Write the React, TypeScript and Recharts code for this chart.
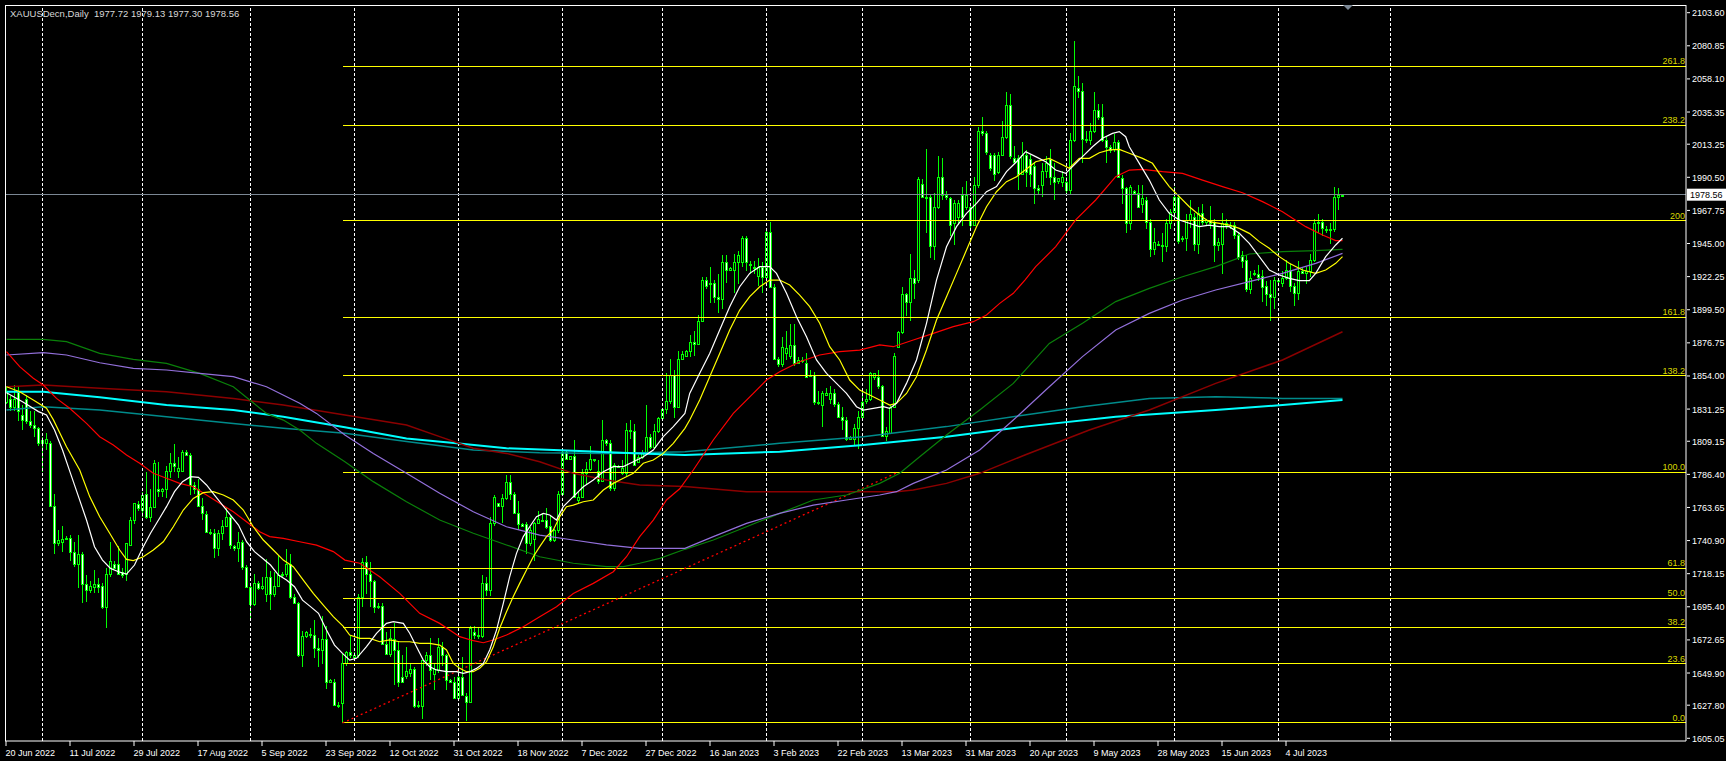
import React from 'react';
import { ComposedChart, Bar, Line, XAxis, YAxis, ReferenceLine } from 'recharts';

// [open, high, low, close] per daily bar
const CANDLES: number[][] = [
  [1836,1847,1835,1843],[1838,1840,1830,1833],[1833,1848,1830,1838],[1843,1847,1823,1830],[1827,1834,1817,1824],
  [1838,1841,1821,1823],[1823,1830,1818,1820],[1820,1830,1812,1818],[1818,1819,1806,1808],[1810,1812,1788,1808],
  [1808,1815,1803,1811],[1808,1809,1764,1765],[1765,1773,1732,1739],[1739,1748,1737,1741],[1740,1751,1733,1742],
  [1742,1744,1741,1743],[1743,1745,1727,1733],[1733,1740,1723,1725],[1725,1745,1708,1732],[1732,1733,1698,1711],
  [1711,1717,1699,1707],[1707,1713,1705,1710],[1709,1721,1705,1711],[1711,1715,1705,1709],[1710,1712,1694,1695],
  [1695,1722,1681,1718],[1718,1740,1716,1727],[1725,1727,1722,1722],[1725,1737,1717,1718],[1719,1722,1715,1717],
  [1718,1739,1713,1739],[1738,1757,1737,1755],[1755,1767,1752,1767],[1766,1768,1761,1763],[1762,1774,1757,1772],
  [1773,1788,1756,1757],[1757,1776,1754,1764],[1764,1796,1763,1794],[1776,1795,1771,1775],[1775,1777,1771,1776],
  [1776,1792,1770,1789],[1789,1801,1784,1794],[1794,1807,1788,1792],[1789,1798,1784,1791],[1789,1803,1788,1802],
  [1802,1803,1799,1800],[1800,1801,1772,1779],[1779,1781,1773,1776],[1776,1783,1765,1765],[1765,1770,1755,1760],
  [1759,1761,1747,1747],[1747,1749,1745,1746],[1746,1749,1729,1736],[1736,1748,1730,1746],[1746,1755,1741,1751],
  [1751,1764,1750,1757],[1757,1758,1735,1738],[1737,1738,1734,1736],[1736,1747,1726,1740],[1740,1741,1721,1723],
  [1723,1724,1708,1709],[1709,1712,1688,1697],[1697,1718,1696,1712],[1712,1713,1707,1708],[1708,1716,1707,1710],
  [1704,1728,1699,1716],[1716,1720,1693,1704],[1704,1719,1702,1710],[1710,1731,1709,1717],[1717,1719,1716,1718],
  [1718,1735,1716,1725],[1725,1732,1701,1702],[1702,1704,1697,1698],[1698,1699,1661,1662],[1662,1679,1654,1675],
  [1675,1679,1674,1678],[1677,1681,1674,1676],[1676,1686,1660,1667],[1667,1674,1654,1666],[1666,1689,1656,1673],
  [1673,1682,1639,1644],[1644,1646,1643,1645],[1644,1646,1627,1628],[1628,1630,1626,1628],[1629,1663,1615.6,1657],
  [1657,1665,1655,1664],[1664,1675,1660,1662],[1661,1664,1659,1662],[1662,1704,1660,1702],[1702,1729,1695,1726],
  [1726,1730,1704,1718],[1718,1726,1695,1713],[1713,1714,1691,1695],[1695,1698,1694,1696],[1696,1698,1669,1670],
  [1670,1678,1662,1663],[1663,1680,1661,1674],[1673,1684,1642,1666],[1666,1671,1640,1644],[1647,1662,1643,1644],
  [1648,1668,1646,1651],[1650,1656,1647,1653],[1653,1654,1626,1627],[1627,1631,1626,1628],[1627,1659,1618,1659],
  [1659,1664,1655,1662],[1662,1674,1645,1652],[1649,1656,1638,1653],[1652,1674,1650,1668],[1668,1671,1655,1662],
  [1662,1663,1638,1645],[1645,1646,1643,1644],[1644,1647,1632,1633],[1633,1655,1631,1647],[1647,1661,1634,1635],
  [1634,1636,1617,1630],[1630,1682,1629,1681],[1678,1682,1673,1676],[1676,1681,1673,1675],[1675,1717,1674,1712],
  [1712,1716,1703,1707],[1707,1757,1703,1753],[1753,1772,1751,1771],[1767,1767,1764,1765],[1765,1773,1753,1770],
  [1770,1786,1769,1781],[1781,1786,1769,1773],[1773,1774,1759,1760],[1760,1768,1748,1752],[1752,1753,1750,1751],
  [1752,1754,1732,1739],[1739,1750,1737,1748],[1742,1754,1727,1753],[1753,1761,1752,1756],[1755,1760,1754,1755],
  [1755,1763,1749,1750],[1751,1758,1740,1741],[1741,1749,1740,1748],[1748,1775,1746,1773],[1773,1804,1772,1802],
  [1802,1803,1796,1797],[1797,1799,1796,1799],[1799,1810,1770,1771],[1769,1775,1767,1771],[1771,1790,1770,1787],
  [1787,1795,1780,1790],[1790,1806,1789,1797],[1796,1797,1795,1797],[1789,1796,1780,1782],[1782,1824,1781,1810],
  [1810,1811,1806,1808],[1808,1810,1775,1777],[1777,1794,1775,1793],[1792,1793,1791,1792],[1787,1796,1786,1791],
  [1787,1822,1785,1817],[1817,1824,1811,1816],[1816,1821,1792,1793],[1795,1800,1794,1798],[1798,1803,1797,1802],
  [1802,1834,1801,1812],[1812,1814,1804,1805],[1805,1821,1804,1816],[1816,1826,1815,1825],[1825,1832,1824,1831],
  [1831,1856,1828,1837],[1837,1866,1835,1855],[1855,1858,1825,1833],[1833,1871,1832,1866],[1866,1871,1865,1869],
  [1868,1872,1867,1871],[1871,1882,1867,1877],[1877,1885,1868,1876],[1876,1896,1875,1892],[1892,1922,1891,1920],
  [1920,1922,1914,1916],[1917,1929,1904,1918],[1918,1920,1904,1908],[1908,1924,1897,1907],[1907,1937,1900,1932],
  [1932,1937,1918,1927],[1927,1929,1926,1928],[1927,1938,1911,1932],[1932,1940,1917,1937],[1932,1950,1929,1949],
  [1949,1950,1926,1932],[1931,1933,1924,1930],[1928,1933,1924,1929],[1923,1935,1916,1929],[1929,1932,1911,1922],
  [1922,1955,1919,1953],[1953,1960,1915,1915],[1915,1917,1865,1866],[1866,1867,1860,1862],[1862,1881,1860,1874],
  [1870,1885,1865,1873],[1868,1890,1866,1875],[1875,1890,1861,1863],[1863,1867,1862,1865],[1864,1867,1863,1865],
  [1863,1870,1853,1853],[1854,1858,1853,1855],[1855,1857,1834,1836],[1836,1844,1834,1836],[1834,1844,1819,1842],
  [1841,1846,1840,1842],[1838,1847,1835,1842],[1842,1845,1833,1835],[1835,1836,1825,1826],[1826,1833,1817,1824],
  [1824,1826,1809,1811],[1811,1813,1811,1812],[1811,1821,1806,1818],[1818,1830,1804,1826],[1826,1845,1823,1836],
  [1837,1845,1835,1838],[1838,1857,1837,1856],[1853,1856,1851,1856],[1853,1858,1845,1847],[1847,1848,1813,1813],
  [1813,1819,1809,1816],[1815,1834,1814,1833],[1833,1870,1832,1868],[1874,1885,1873,1884],[1884,1915,1883,1910],
  [1910,1911,1895,1905],[1905,1938,1892,1921],[1921,1927,1907,1918],[1920,1991,1918,1989],[1986,1989,1976,1977],
  [1977,2010,1952,1976],[1977,1978,1935,1943],[1943,1980,1934,1970],[1970,2005,1969,1991],[1991,2004,1975,1978],
  [1978,1981,1975,1977],[1976,1977,1950,1958],[1959,1975,1944,1973],[1963,1975,1958,1973],[1978,1984,1957,1963],
  [1970,1988,1968,1978],[1970,1972,1955,1958],[1958,1991,1957,1985],[1985,2025,1983,2022],[2022,2032,2019,2021],
  [2021,2022,2006,2008],[2006,2007,1995,1997],[2006,2007,1988,1993],[1994,2008,1993,2006],[2006,2029,2005,2018],
  [2018,2049,2017,2040],[2040,2048,2003,2005],[2004,2012,2000,2001],[2004,2006,1982,1993],[1993,2015,1992,2006],
  [2006,2009,1984,1994],[2003,2006,1984,1993],[1998,2001,1972,1983],[1983,1985,1979,1982],[1985,2000,1977,1995],
  [1995,2005,1990,2000],[2003,2010,1985,1991],[1991,2000,1975,1987],[1988,1990,1986,1990],[1987,1995,1984,1991],
  [1987,1991,1978,1982],[1982,2021,1979,2016],[2016,2084,2015,2053],[2052,2060,2045,2050],[2050,2055,2000,2017],
  [2017,2022,2014,2016],[2016,2028,2013,2022],[2022,2049,2021,2037],[2037,2041,2030,2032],[2032,2041,2015,2016],
  [2016,2018,2000,2011],[2011,2013,2007,2009],[2010,2020,2008,2015],[2015,2016,1990,1991],[1990,1992,1972,1983],
  [1983,1984,1952,1959],[1959,1985,1954,1984],[1981,1982,1979,1980],[1980,1985,1970,1970],[1972,1985,1966,1976],
  [1975,1977,1955,1960],[1960,1962,1936,1941],[1941,1956,1937,1946],[1945,1947,1943,1944],[1944,1952,1932,1943],
  [1943,1962,1939,1959],[1959,1969,1955,1967],[1967,1984,1965,1977],[1977,1978,1945,1947],[1948,1950,1946,1949],
  [1949,1965,1940,1961],[1961,1975,1956,1965],[1963,1966,1940,1945],[1945,1970,1938,1966],[1966,1972,1958,1960],
  [1960,1962,1958,1961],[1961,1971,1955,1959],[1960,1962,1932,1944],[1944,1949,1940,1946],[1945,1966,1924,1959],
  [1959,1962,1955,1958],[1958,1960,1955,1957],[1958,1960,1948,1951],[1951,1953,1934,1936],[1937,1940,1928,1933],
  [1934,1937,1912,1914],[1914,1926,1910,1921],[1925,1927,1923,1924],[1924,1930,1919,1922],[1923,1927,1905,1915],
  [1916,1919,1902,1910],[1910,1920,1892,1908],[1908,1922,1900,1920],[1919,1921,1918,1920],[1918,1926,1915,1921],
  [1921,1934,1920,1927],[1927,1931,1912,1916],[1916,1918,1902,1911],[1911,1933,1906,1926],[1926,1928,1924,1925],
  [1925,1929,1917,1926],[1926,1938,1922,1934],[1934,1962,1932,1959],[1959,1965,1952,1960],[1960,1962,1950,1956],
  [1955,1957,1952,1954],[1954,1959,1945,1955],[1955,1984,1953,1977],[1977,1983,1968,1978],[1977.72,1979.13,1977.3,1978.56],
];

const DATE_BARS = [0,16,32,48,64,80,96,112,128,144,160,176,192,208,224,240,256,272,288,304,320];
const DATE_LABELS = [
  '20 Jun 2022','11 Jul 2022','29 Jul 2022','17 Aug 2022','5 Sep 2022','23 Sep 2022','12 Oct 2022',
  '31 Oct 2022','18 Nov 2022','7 Dec 2022','27 Dec 2022','16 Jan 2023','3 Feb 2023','22 Feb 2023',
  '13 Mar 2023','31 Mar 2023','20 Apr 2023','9 May 2023','28 May 2023','15 Jun 2023','4 Jul 2023',
];
const PRICE_TICKS = [
  2103.60,2080.85,2058.10,2035.35,2013.25,1990.50,1967.75,1945.00,1922.25,1899.50,1876.75,1854.00,
  1831.25,1809.15,1786.40,1763.65,1740.90,1718.15,1695.40,1672.65,1649.90,1627.80,1605.05,
];
const GRID_BARS = [9,34,61,87,113,139,164,190,214,241,265,292,318,346];

const FIB_LEVELS: [string, number][] = [
  ['0.0',1615.6],['23.6',1656.1],['38.2',1681.4],['50.0',1701.4],['61.8',1721.9],['100.0',1788.0],
  ['138.2',1854.0],['161.8',1894.4],['200',1960.5],['238.2',2026.3],['261.8',2066.9],
];
const FIB_START = { bar: 84, price: 1615.6 };
const FIB_END = { bar: 223, price: 1788.0 };
const LAST_PRICE = 1978.56;
const TITLE = 'XAUUSDecn,Daily  1977.72 1979.13 1977.30 1978.56';

// moving averages, [bar, price] samples
const WHITE_MA = [
  [0,1842.5],[4,1836.3],[8,1829.5],[10,1827.2],[12,1816.9],[14,1803.1],[16,1787.1],[18,1771.1],[20,1755],[22,1736.7],
  [24,1727.5],[26,1721.8],[28,1719.5],[30,1717.9],[32,1724.1],[34,1735.6],[36,1745.9],[38,1755],[40,1764.2],[42,1774.5],
  [44,1781.4],[46,1784.8],[48,1784.3],[50,1779.1],[52,1772.2],[54,1765.3],[56,1758.4],[58,1751.6],[60,1740.1],[62,1733.3],
  [64,1728.7],[66,1724.1],[68,1717.2],[70,1713.8],[72,1709.2],[74,1700],[76,1695.5],[78,1690.9],[80,1679.4],[82,1669.1],
  [84,1663.4],[85.8,1658.8],[87.5,1660],[90,1668],[92.5,1677.2],[95,1684],[96.7,1685.2],[99.2,1684],[100.8,1677.2],
  [102.5,1668],[104.2,1658.8],[105.8,1654.2],[107.5,1652],[110,1650.8],[112.5,1650.8],[114.2,1649.7],[115.8,1650.8],
  [117.5,1653.1],[119.2,1656.5],[120.8,1665.7],[122.5,1679.4],[124.2,1697.8],[125.8,1716.1],[127.5,1732.1],[129.2,1743.6],
  [130.8,1750.4],[132.5,1757.3],[134.2,1759.6],[135.8,1758.5],[137.5,1755],[139.2,1764.2],[141.7,1771.1],[144.2,1777.9],
  [146.7,1782.5],[149.2,1788.2],[151.7,1791.7],[154.2,1791.7],[156.7,1795.1],[159.2,1798.5],[161.7,1803.1],[164.2,1812.3],
  [166.7,1819.2],[169.6,1828.3],[170.8,1842],[173.3,1855.8],[175.8,1869.5],[178.3,1885.6],[180.8,1901.6],[183.3,1915.3],
  [185.8,1924.5],[188.3,1929.1],[190.8,1929.1],[192.5,1924.5],[195,1910.8],[197.5,1894.7],[200,1881],[202.5,1865],
  [205,1855.8],[207.5,1848.9],[210,1842],[212.5,1832.9],[214.2,1830.6],[216.7,1831.7],[219.2,1832.9],[220.8,1831.7],
  [222.5,1835.2],[225,1848.9],[227.5,1865],[230,1890.2],[232.5,1919.9],[235,1942.8],[237.5,1956.6],[240,1965.7],
  [242.5,1972.6],[245,1980.6],[247.5,1984.1],[250,1994.4],[252.5,2001.2],[254.8,2008.1],[257.3,2004.7],[259.8,2001.2],
  [262.3,1995.5],[264.8,1993.2],[266.5,1997.8],[269,2004.7],[271.5,2011.5],[274,2017.3],[276.5,2020.7],[278.2,2021.9],
  [279.8,2018.4],[280.7,2011.5],[283.2,2000.1],[285.7,1988.6],[288.2,1974.9],[290.7,1965.7],[293.2,1961.2],[295.7,1958.9],
  [298.2,1956.6],[300.7,1957.7],[303.2,1956.6],[305.7,1956.6],[308.2,1952],[310.7,1945.1],[313.2,1936],[315.7,1926.8],
  [318.2,1923.4],[320.7,1921.1],[323.2,1919.5],[325.7,1919.5],[327.3,1924.5],[329.8,1936],[332.3,1944],[334,1948.6],
];
const YELLOW_MA = [
  [0,1846.6],[3.3,1843.2],[6.7,1837.5],[10,1831.8],[11.7,1824],[15,1805.4],[18.3,1789.4],[20.8,1771.1],[23.3,1757.3],
  [25.8,1745.9],[28.3,1734.4],[30,1728],[31.7,1727.1],[34.2,1729.8],[36.7,1734.4],[39.2,1740.1],[41.7,1750.4],[44.2,1761.9],
  [46.7,1769.9],[49.2,1773.8],[51.7,1774.5],[54.2,1772.2],[56.7,1768.8],[59.2,1761.9],[61.7,1750.4],[64.2,1741.3],
  [66.7,1734.4],[69.2,1727.5],[71.7,1723],[74.2,1713.8],[76.7,1704.6],[79.2,1696.6],[81.7,1688.6],[84.2,1682],
  [85.8,1676],[88.3,1673.7],[90.8,1673.7],[93.3,1671.4],[95.8,1672.6],[98.3,1671.4],[100.8,1671.4],[103.3,1670.3],
  [105.8,1670.3],[108.3,1669.1],[110,1665.7],[111.7,1656.5],[113.3,1653.1],[115,1650.8],[116.7,1650.8],[118.3,1653.1],
  [120,1657.7],[121.7,1668],[123.3,1680.6],[125,1692],[126.7,1702.4],[128.3,1711.5],[130,1720.7],[131.7,1729.8],
  [133.3,1736.7],[135,1743.6],[136.7,1748.2],[138.3,1757.3],[140,1764.2],[141.7,1765.3],[144.2,1767.6],[146.7,1768.8],
  [149.2,1775.6],[151.7,1780.2],[154.2,1783.7],[156.7,1787.1],[159.2,1794],[161.7,1796.3],[164.2,1800.8],[166.7,1807.7],
  [169.6,1818],[170.8,1823.7],[173.3,1837.5],[175.8,1853.5],[178.3,1869.5],[180.8,1885.6],[183.3,1899.3],[185.8,1908.5],
  [188.3,1915.3],[190.8,1919.9],[193.3,1919.9],[195.8,1916.5],[198.3,1909.6],[200.8,1901.6],[203.3,1890.2],[205.8,1874.1],
  [208.3,1865],[210.8,1851.2],[213.3,1844.3],[215.8,1840.9],[218.3,1837.5],[220.8,1834],[222.5,1835.2],[225,1842],
  [227.5,1853.5],[230,1871.8],[232.5,1892.4],[235,1908.5],[237.5,1924.5],[240,1940.5],[242.5,1956.6],[245,1970.3],
  [247.5,1980.6],[250,1987.5],[252.5,1990.9],[257.3,2001.2],[260.7,2003.5],[263.2,2000.1],[265.7,1996.7],[268.2,2003.5],
  [270.7,2003.5],[273.2,2007.4],[275.7,2009.3],[278.2,2009.7],[280.7,2007],[284,2003.5],[286.5,2000.1],[288.2,1993.2],
  [290.7,1984.1],[293.2,1977.2],[295.7,1970.3],[298.2,1964.6],[300.7,1960],[303.2,1958.9],[305.7,1957.7],[308.2,1955.4],
  [310.7,1952],[313.2,1946.3],[315.7,1941.7],[318.2,1936],[320.7,1931.4],[324,1926.8],[327.3,1924.5],[329.8,1926.8],
  [332.3,1931.4],[334,1936],
];
const RED_MA = [
  [0,1870.7],[3.3,1860.4],[6.7,1852.4],[9.2,1847.8],[12.5,1838.6],[15.8,1831.8],[20,1821.4],[23.3,1812.3],[26.7,1806.6],
  [30,1799.7],[33.3,1794],[36.7,1787.1],[40,1783.7],[43.3,1780.2],[46.7,1777.9],[50,1772.2],[53.3,1766.5],[56.7,1760.7],
  [60,1753.9],[63.3,1747],[65.8,1743.6],[69.2,1742.4],[73.3,1740.1],[77.5,1737.8],[81.7,1733.3],[84.6,1727.5],
  [88.3,1725.3],[93.3,1716.1],[98.3,1704.6],[103.3,1690.9],[108.3,1684],[113.3,1674.9],[116.7,1672.1],[119.2,1670.7],
  [121.7,1672.6],[125,1676],[129.2,1681.7],[133.3,1688.6],[137.5,1695.5],[141.7,1704.6],[146.7,1711.5],[151.7,1719.5],
  [155,1729.8],[158.3,1743.6],[161.7,1755],[165,1768.8],[168.3,1776.5],[171.7,1789.4],[176.7,1810],[181.7,1828.3],
  [186.7,1842],[190,1851.2],[193.3,1856.9],[198.3,1863.8],[203.3,1868.4],[208.3,1870.7],[213.3,1871.8],[218.3,1875.3],
  [221.7,1874.1],[226.7,1878.7],[231.7,1883.3],[236.7,1887.9],[241.7,1891.3],[245,1895.9],[248.3,1903.9],[251.7,1910.8],
  [254.6,1919.9],[257.3,1929.1],[262.3,1942.8],[267.3,1961.2],[272.3,1974.9],[277.3,1990.9],[280.7,1995.5],[284,1996],
  [289,1994.4],[294,1993.2],[299,1988.6],[304,1984.1],[309,1979.9],[314,1973.8],[319,1966.9],[321.5,1962.3],
  [324.8,1956.6],[329,1950.9],[332.3,1947],[334,1947],
];
const GREEN_MA = [
  [0,1879.2],[9.2,1879.2],[15,1877.6],[23.3,1869.5],[31.7,1865.4],[40,1862.7],[48.3,1855.8],[56.7,1846.6],[60.8,1837.5],
  [65,1828.3],[69.2,1823.7],[73.3,1816.9],[77.5,1807.7],[84.6,1795.1],[91.7,1781.4],[100,1767.6],[108.3,1755],
  [116.7,1745.9],[125,1737.9],[133.3,1729.8],[141.7,1725.3],[150,1723],[154.2,1723],[158.3,1725.3],[163.3,1728.7],
  [169.6,1734.9],[176.7,1741.3],[185,1750.4],[193.3,1759.6],[201.7,1768.8],[210,1772.2],[218.3,1780.2],[223.3,1787.1],
  [228.3,1798.5],[235,1813.4],[243.3,1830.6],[251.7,1848.9],[260.7,1876.4],[269,1890.2],[277.3,1905.1],[285.7,1914.2],
  [294,1922.2],[302.3,1929.1],[310.7,1937.8],[319,1939.4],[327.3,1940.1],[334,1941],
];
const PURPLE_MA = [
  [0,1868.4],[9.2,1870],[15,1868.4],[23.3,1863.1],[31.7,1859.2],[40,1858.1],[48.3,1855.8],[56.7,1853.5],[65,1846.6],
  [73.3,1835.2],[77.5,1828.3],[84.6,1813.4],[91.7,1800.8],[100,1787.1],[108.3,1773.4],[116.7,1760.7],[125,1750.4],
  [133.3,1744.7],[141.7,1741.3],[150,1737.9],[158.3,1735.6],[169.6,1735.6],[176.7,1743.6],[185,1752.7],[193.3,1759.6],
  [201.7,1765.3],[210,1768.8],[218.3,1772.2],[222.5,1774.5],[226.7,1780.2],[235,1789.4],[243.3,1803.1],[251.7,1823.7],
  [260.7,1846.6],[269,1867.3],[277.3,1885.6],[285.7,1897],[294,1906.2],[302.3,1913.1],[310.7,1918.8],[319,1924.5],
  [327.3,1931.4],[334,1938.2],
];
const DARKRED_MA = [
  [0,1846.6],[9.2,1847.8],[23.3,1845.5],[40,1843.2],[56.7,1838.6],[69.2,1834],[84.6,1827.2],[100,1820.3],[108.3,1812.3],
  [116.7,1804.3],[125,1800.8],[133.3,1795.1],[141.7,1787.1],[150,1782.5],[158.3,1779.1],[169.6,1778],[185,1774.5],
  [201.7,1774.5],[222.5,1774.5],[226.7,1775.6],[235,1780.2],[243.3,1787.1],[254.6,1799.7],[270.7,1816.9],[285.7,1830.6],
  [302.3,1848.9],[319,1865],[334,1884.4],
];
const CYAN_MA = [
  [0,1843.2],[9.2,1843.2],[23.3,1839.3],[40,1834],[56.7,1830.6],[69.2,1826],[84.6,1818.7],[100,1811.1],[112.5,1807.7],
  [125,1804.3],[141.7,1802.7],[158.3,1800.8],[169.6,1799.7],[193.3,1802],[214.2,1806.6],[235,1812.3],[254.6,1819.2],
  [277.3,1826],[302.3,1830.6],[319,1834],[334,1837.5],
];
const TEAL_MA = [
  [0,1830.6],[9.2,1832.9],[23.3,1830.6],[40,1826],[56.7,1821.4],[69.2,1818],[84.6,1814.6],[100,1808.9],[116.7,1803.1],
  [133.3,1801.3],[150,1800.8],[169.6,1802],[193.3,1807.7],[214.2,1812.3],[235,1819.2],[254.6,1827.2],[269,1832.9],
  [285.7,1838.6],[302.3,1839.8],[319,1838.6],[334,1838.6],
];

const X_DOMAIN: [number, number] = [-0.375, 419.875];
const Y_DOMAIN: [number, number] = [1603.19, 2108.89];
const FONT = '"Liberation Sans", Arial, sans-serif';

const table = CANDLES.map((c, i) => ({ i, o: c[0], h: c[1], l: c[2], c: c[3], range: [c[2], c[1]] }));
const toLine = (arr: number[][]) => arr.map(([i, v]) => ({ i, v }));

const MAS = [
  { key: 'teal', data: toLine(TEAL_MA), color: '#008b8b', w: 1.5 },
  { key: 'cyan', data: toLine(CYAN_MA), color: '#00ffff', w: 2 },
  { key: 'darkred', data: toLine(DARKRED_MA), color: '#8b0000', w: 1.5 },
  { key: 'green', data: toLine(GREEN_MA), color: '#0a800a', w: 1.2 },
  { key: 'purple', data: toLine(PURPLE_MA), color: '#9370db', w: 1.2 },
  { key: 'red', data: toLine(RED_MA), color: '#ff0000', w: 1.2 },
  { key: 'yellow', data: toLine(YELLOW_MA), color: '#ffff00', w: 1.2 },
  { key: 'white', data: toLine(WHITE_MA), color: '#ffffff', w: 1.2 },
];

function Candle(props: any) {
  const { x, y, width, height, payload } = props;
  if (!payload || !Number.isFinite(x) || !Number.isFinite(y)) return null;
  const { o, h, l, c } = payload;
  const k = h > l ? height / (h - l) : 0;
  const py = (p: number) => y + (h - p) * k;
  const cx = Math.floor(x + width / 2) + 0.5;
  const top = Math.round(py(Math.max(o, c)));
  const bot = Math.round(py(Math.min(o, c)));
  return (
    <g shapeRendering="crispEdges">
      <line x1={cx} x2={cx} y1={py(h)} y2={py(l)} stroke="#00ff00" strokeWidth={1} />
      <rect x={cx - 1} y={top + 0.5} width={2} height={Math.max(bot - top, 1)}
        fill={c >= o ? '#000000' : '#ffffff'} stroke="#00ff00" strokeWidth={1} />
    </g>
  );
}

function PriceTick(props: any) {
  const { x, y, payload } = props;
  return (
    <g>
      <line x1={x + 1} x2={x + 4} y1={y} y2={y} stroke="#ffffff" />
      <text x={x + 6} y={y + 3.5} fill="#ffffff" fontSize={9} fontFamily={FONT}>
        {Number(payload.value).toFixed(2)}
      </text>
    </g>
  );
}

function DateTick(props: any) {
  const { x, y, payload } = props;
  const idx = DATE_BARS.indexOf(payload.value);
  return (
    <g>
      <line x1={x - 0.5} x2={x - 0.5} y1={y} y2={y + 5} stroke="#ffffff" />
      <text x={x - 1} y={y + 15} fill="#ffffff" fontSize={9} fontFamily={FONT}>
        {DATE_LABELS[idx]}
      </text>
    </g>
  );
}

function FibLabel(props: any) {
  const vb = props.viewBox || {};
  return (
    <text x={1685} y={vb.y - 2} textAnchor="end" fill="#d8d800" fontSize={9} fontFamily={FONT}>
      {props.value}
    </text>
  );
}

function PriceTag(props: any) {
  const vb = props.viewBox || {};
  return (
    <g>
      <rect x={1687} y={vb.y - 6} width={39} height={12} fill="#ffffff" />
      <text x={1690} y={vb.y + 3.5} fill="#000000" fontSize={9} fontFamily={FONT}>
        {LAST_PRICE.toFixed(2)}
      </text>
    </g>
  );
}

export default function App() {
  return (
    <div style={{ position: 'absolute', left: 0, top: 0, width: 1726, height: 761, background: '#000', overflow: 'hidden' }}>
      <ComposedChart width={1726} height={761} data={table} margin={{ top: 5, right: 0, bottom: 0, left: 5 }}>
        <XAxis dataKey="i" type="number" domain={X_DOMAIN} allowDataOverflow ticks={DATE_BARS} interval={0}
          height={20} tickSize={0} tickMargin={0} tickLine={false} axisLine={{ stroke: '#ffffff' }} tick={<DateTick />} />
        <YAxis orientation="right" type="number" domain={Y_DOMAIN} allowDataOverflow ticks={PRICE_TICKS} interval={0}
          width={40} tickSize={0} tickMargin={0} tickLine={false} axisLine={{ stroke: '#ffffff' }} tick={<PriceTick />} />

        {GRID_BARS.map((b) => (
          <ReferenceLine key={`g${b}`} x={b} stroke="#ffffff" strokeDasharray="3 2" ifOverflow="visible"
            shapeRendering="crispEdges" />
        ))}

        {FIB_LEVELS.map(([name, p]) => (
          <ReferenceLine key={`f${name}`} ifOverflow="visible" stroke="#ffff00" strokeWidth={1}
            shapeRendering="crispEdges"
            segment={[{ x: FIB_START.bar, y: p }, { x: X_DOMAIN[1], y: p }]}
            label={<FibLabel value={name} />} />
        ))}
        <ReferenceLine ifOverflow="visible" stroke="#ff0000" strokeDasharray="2 3" strokeWidth={1.3}
          segment={[{ x: FIB_START.bar, y: FIB_START.price }, { x: FIB_END.bar, y: FIB_END.price }]} />

        <Bar dataKey="range" barSize={3} shape={(p: any) => <Candle {...p} />} isAnimationActive={false} />

        {MAS.map((m) => (
          <Line key={m.key} data={m.data} dataKey="v" type="linear" stroke={m.color} strokeWidth={m.w}
            dot={false} activeDot={false} isAnimationActive={false} />
        ))}

        <ReferenceLine y={LAST_PRICE} stroke="#7b8794" ifOverflow="visible" shapeRendering="crispEdges"
          label={<PriceTag />} />
      </ComposedChart>
      <div style={{ position: 'absolute', left: 5, top: 5, width: 1681, height: 736,
        borderLeft: '1px solid #fff', borderTop: '1px solid #fff', pointerEvents: 'none', boxSizing: 'border-box' }} />
      <div style={{ position: 'absolute', left: 10, top: 8, color: '#d8d8d8', fontSize: 9.5, fontFamily: FONT,
        whiteSpace: 'pre', lineHeight: '11px' }}>{TITLE}</div>
      <svg style={{ position: 'absolute', left: 1343, top: 5 }} width={11} height={7}>
        <polygon points="0,0 10,0 5,5" fill="#7b8794" />
      </svg>
    </div>
  );
}
